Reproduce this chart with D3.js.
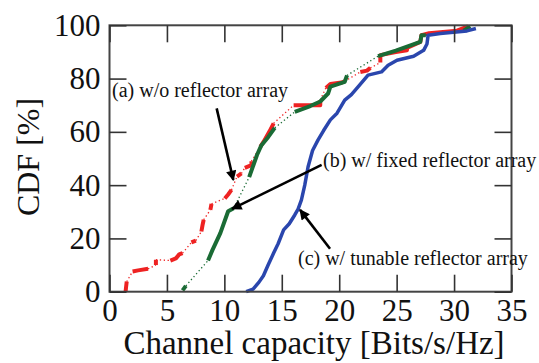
<!DOCTYPE html>
<html>
<head>
<meta charset="utf-8">
<script src="https://cdn.jsdelivr.net/npm/d3@7"></script>
<style>
  body { margin: 0; background: #fff; }
  svg { font-family: "Liberation Serif", "Times New Roman", serif; }
  .tick text { font-size: 31px; fill: #111; }
  .tick line { stroke: #333; stroke-width: 1.6px; }
  .note { font-size: 20px; fill: #111; }
</style>
</head>
<body>
<svg id="chart" width="539" height="363"></svg>
<script>
// x ticks, y ticks
let x_ticks = [0, 5, 10, 15, 20, 25, 30, 35]
let y_ticks = [0, 20, 40, 60, 80, 100]

// each series = runs of dense samples [capacity, cdf]; gaps between runs are sparse
let red_runs = [
  [[1.4, 0], [1.45, 2], [1.5, 3.8]],
  [[2.01, 7.6], [2.49, 8.0], [3.36, 8.6]],
  [[4.04, 10], [4.04, 12]],
  [[5.30, 11.7], [5.78, 12.5], [6.07, 14], [6.36, 14.5]],
  [[7.13, 18.5], [7.52, 19.2]],
  [[8.00, 22.6], [8.10, 25], [8.20, 27]],
  [[8.78, 30.7], [8.88, 33]],
  [[10.04, 35], [10.33, 36.5], [10.62, 38.2]],
  [[11.10, 43.2], [11.49, 44.4]],
  [[11.78, 46.5], [12.36, 47.5], [12.36, 49]],
  [[13.13, 54.4], [13.42, 56.3], [13.91, 60], [14.29, 63.2]],
  [[16.03, 70], [18.35, 70], [18.35, 72]],
  [[18.84, 76.5], [19.23, 78], [20.19, 78.5], [20.48, 79]],
  [[21.84, 82.5], [22.42, 83], [22.71, 84]],
  [[23.58, 86], [23.58, 88.8], [24.93, 90], [25.90, 90.6], [25.90, 91.5], [27.06, 93.8],
   [27.16, 96.3], [27.83, 97], [30.25, 98], [31.22, 99.6]]
]

let green_runs = [
  [[6.36, 0.5], [6.65, 2.2]],
  [[8.58, 11.7], [8.97, 15.7], [9.65, 22], [10.33, 30.2], [10.81, 31.3]],
  [[12.16, 43], [12.84, 51.3], [13.23, 55], [13.81, 58], [14.39, 61.5]],
  [[16.13, 67.5], [17.48, 69.7], [18.35, 71.4], [19.03, 74.4], [19.23, 77], [20.48, 78.8], [20.68, 81.2]],
  [[23.38, 88.4], [24.93, 90.5], [27.06, 93.8], [27.16, 96.3], [27.54, 96.3]],
  [[30.83, 98], [31.41, 99.6]]
]

let blue_pts = [
  [11.9, 0], [12.5, 1], [13.0, 3.5], [13.4, 6], [13.81, 10], [14.29, 14.5],
  [14.68, 18], [15.16, 23.2], [15.65, 25.5], [16.13, 28.8], [16.42, 31], [16.71, 34.5],
  [17.00, 40], [17.29, 46.9], [17.68, 53], [18.16, 57], [18.64, 60.5], [19.23, 64.5],
  [19.81, 67], [20.48, 71.9], [21.06, 74], [21.64, 76.9], [22.51, 81.3], [23.68, 82.5],
  [24.26, 85], [25.03, 86.9], [26.48, 88.4], [27.35, 90.6], [27.64, 93], [27.74, 96.3],
  [28.80, 96.9], [31.12, 97.9], [31.90, 98.8]
]

// annotations: label, text anchor point, arrow tail, arrow head (data units)
let notes = [
  {label: "(a) w/o reflector array", at: [0.22, 73], from: [9.33, 68.8], to: [10.78, 41.9]},
  {label: "(b) w/ fixed reflector array", at: [18.59, 46.8], from: [18.47, 47.6], to: [10.67, 31.1]},
  {label: "(c) w/ tunable reflector array", at: [16.41, 10.1], from: [19.2, 16.1], to: [16.59, 30.7]}
]

let width = 539, height = 363
let margins = {left: 109.5, right: 27.5, top: 25.3, bottom: 71.3}

let svg = d3.select("#chart")

let x = d3.scaleLinear().domain([0, 35]).range([margins.left, width - margins.right])
let y = d3.scaleLinear().domain([0, 100]).range([height - margins.bottom, margins.top])

let line = d3.line().x(d => x(d[0])).y(d => y(d[1]))

function draw_runs(runs, color, thick) {
  let g = svg.append("g")
  // thin dotted connectors through sparse parts
  for (let i = 0; i < runs.length - 1; i++) {
    let a = runs[i][runs[i].length - 1], b = runs[i + 1][0]
    g.append("path")
      .attr("d", line([a, b]))
      .attr("fill", "none")
      .attr("stroke", color)
      .attr("stroke-width", 1.3)
      .attr("stroke-dasharray", "1.3,2.6")
  }
  runs.forEach(r => {
    g.append("path")
      .attr("d", line(r))
      .attr("fill", "none")
      .attr("stroke", color)
      .attr("stroke-width", thick)
      .attr("stroke-linejoin", "round")
  })
}

draw_runs(red_runs, "#ee2222", 4)
draw_runs(green_runs, "#1a6b35", 4)

svg.append("path")
  .attr("d", line(blue_pts))
  .attr("fill", "none")
  .attr("stroke", "#2a46ad")
  .attr("stroke-width", 3.5)
  .attr("stroke-linejoin", "round")

// frame + inward ticks
svg.append("rect")
  .attr("x", x(0)).attr("y", y(100))
  .attr("width", x(35) - x(0)).attr("height", y(0) - y(100))
  .attr("fill", "none").attr("stroke", "#444").attr("stroke-width", 2)

let axes = svg.append("g").attr("id", "axes")
axes.append("g")
  .attr("transform", `translate(0,${y(0)})`)
  .call(d3.axisBottom(x).tickValues(x_ticks).tickSizeInner(-17).tickSizeOuter(0).tickPadding(7))
axes.append("g")
  .attr("transform", `translate(${x(0)},0)`)
  .call(d3.axisLeft(y).tickValues(y_ticks).tickSizeInner(-17).tickSizeOuter(0).tickPadding(9))
axes.append("g")
  .attr("transform", `translate(0,${y(100)})`)
  .call(d3.axisTop(x).tickValues(x_ticks).tickSizeInner(-17).tickSizeOuter(0).tickFormat(""))
axes.append("g")
  .attr("transform", `translate(${x(35)},0)`)
  .call(d3.axisRight(y).tickValues(y_ticks).tickSizeInner(-17).tickSizeOuter(0).tickFormat(""))

axes.selectAll(".domain").remove()
axes.selectAll(":scope > g").attr("font-family", null).attr("font-size", null)

// axis titles
svg.append("text")
  .attr("x", 314)
  .attr("y", 354)
  .attr("text-anchor", "middle")
  .attr("font-size", 33)
  .attr("fill", "#111")
  .text("Channel capacity [Bits/s/Hz]")
svg.append("text")
  .attr("transform", `translate(39, 157) rotate(-90)`)
  .attr("text-anchor", "middle")
  .attr("font-size", 32)
  .attr("fill", "#111")
  .text("CDF [%]")

// arrows
svg.append("defs").append("marker")
  .attr("id", "head")
  .attr("viewBox", "0 0 10 10")
  .attr("refX", 9).attr("refY", 5)
  .attr("markerWidth", 5).attr("markerHeight", 4)
  .attr("markerUnits", "strokeWidth")
  .attr("orient", "auto")
  .append("path").attr("d", "M0,0L10,5L0,10Z").attr("fill", "#000")

notes.forEach(n => {
  svg.append("line")
    .attr("x1", x(n.from[0])).attr("y1", y(n.from[1]))
    .attr("x2", x(n.to[0])).attr("y2", y(n.to[1]))
    .attr("stroke", "#000").attr("stroke-width", 2.6)
    .attr("marker-end", "url(#head)")
  svg.append("text")
    .attr("class", "note")
    .attr("x", x(n.at[0])).attr("y", y(n.at[1]))
    .text(n.label)
})
</script>
</body>
</html>
